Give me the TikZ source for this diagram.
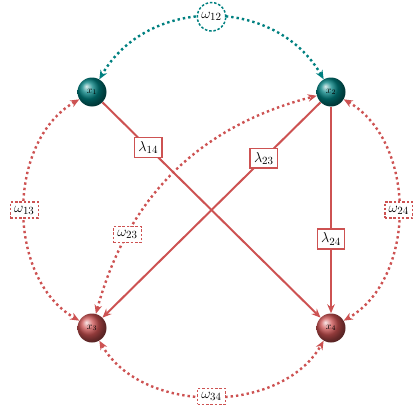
\documentclass[tikz,border=0pt]{standalone}
\usetikzlibrary{arrows.meta}
\definecolor{myred}{RGB}{205,82,82}
\definecolor{myteal}{RGB}{0,128,128}
\begin{document}
\begin{tikzpicture}[x=1pt,y=1pt,
  ball/.style={circle,minimum size=29pt,inner sep=0pt,font=\fontsize{10}{12}\selectfont,text=black},
  tealball/.style={ball,ball color=myteal},
  redball/.style={ball,ball color=myred},
  solidarr/.style={draw=myred,line width=2pt,-{Stealth[length=9pt,width=7.5pt]}},
  dotarr/.style={line width=2.4pt,dash pattern=on 2.4pt off 3pt,{Stealth[length=9pt,width=7.5pt]}-{Stealth[length=9pt,width=7.5pt]}},
  lbox/.style={draw=myred,line width=1.6pt,fill=white,font=\fontsize{15}{17}\selectfont,inner sep=3.8pt,solid,text=black},
  wbox/.style={draw=myred,dash pattern=on 2.5pt off 1.8pt,line width=1.5pt,fill=white,inner sep=3.8pt,font=\fontsize{15}{17}\selectfont,text=black},
  tcirc/.style={circle,draw=myteal,dash pattern=on 2.5pt off 1.8pt,line width=1.5pt,fill=white,inner sep=2.5pt,font=\fontsize{15}{17}\selectfont,text=black},
]
\useasboundingbox (0,0) rectangle (420,-420);
\node[tealball] (x1) at (92,-92) {$x_1$};
\node[tealball] (x2) at (331,-92) {$x_2$};
\node[redball] (x3) at (92,-328) {$x_3$};
\node[redball] (x4) at (331,-328) {$x_4$};

\draw[dotarr,myteal] (x2) to[out=120,in=60,looseness=1.1] node[tcirc]{$\omega_{12}$} (x1);
\draw[dotarr,myred] (x1) to[out=210,in=150,looseness=0.98] node[wbox]{$\omega_{13}$} (x3);
\draw[dotarr,myred] (x2) to[out=-30,in=30,looseness=0.98] node[wbox]{$\omega_{24}$} (x4);
\draw[dotarr,myred] (x3) to[out=-60,in=-120,looseness=0.98] node[wbox]{$\omega_{34}$} (x4);
\draw[dotarr,myred] (x3) to[bend left=30] node[wbox,pos=0.25]{$\omega_{23}$} (x2);

\draw[solidarr] (x1) -- node[lbox,pos=0.21]{$\lambda_{14}$} (x4);
\draw[solidarr] (x2) -- node[lbox,pos=0.26]{$\lambda_{23}$} (x3);
\draw[solidarr] (x2) -- node[lbox,pos=0.64]{$\lambda_{24}$} (x4);
\end{tikzpicture}
\end{document}
